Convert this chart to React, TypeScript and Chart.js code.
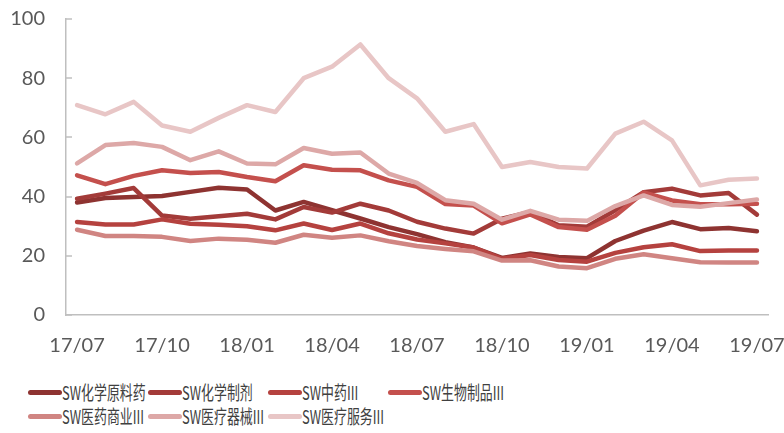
import React, { useEffect, useRef } from 'react';
import { Chart, registerables } from 'chart.js';

Chart.register(...registerables);

const months = [
  '17/07', '17/08', '17/09', '17/10', '17/11', '17/12',
  '18/01', '18/02', '18/03', '18/04', '18/05', '18/06',
  '18/07', '18/08', '18/09', '18/10', '18/11', '18/12',
  '19/01', '19/02', '19/03', '19/04', '19/05', '19/06', '19/07',
];

const seriesNames = [
  'SW化学原料药', 'SW化学制剂', 'SW中药III', 'SW生物制品III',
  'SW医药商业III', 'SW医疗器械III', 'SW医疗服务III',
];

const rawMaterials = [38.0, 39.5, 39.9, 40.2, 41.6, 43.0, 42.4, 35.3, 38.2, 35.4, 32.6, 29.7, 27.3, 24.6, 22.8, 19.3, 20.8, 19.6, 19.2, 25.0, 28.5, 31.4, 29.0, 29.4, 28.3];
const preparations = [39.3, 41.0, 42.9, 33.6, 32.5, 33.4, 34.2, 32.3, 36.5, 34.6, 37.6, 35.3, 31.5, 29.2, 27.5, 32.5, 34.8, 30.3, 29.8, 35.4, 41.5, 42.7, 40.4, 41.2, 33.9];
const tcm = [31.4, 30.6, 30.6, 32.3, 30.8, 30.5, 30.0, 28.6, 30.9, 28.7, 30.9, 27.6, 25.5, 24.2, 22.8, 19.0, 20.3, 18.6, 18.0, 21.0, 22.9, 23.9, 21.6, 21.8, 21.8];
const biologics = [47.2, 44.2, 47.0, 48.9, 48.0, 48.3, 46.6, 45.2, 50.6, 49.1, 48.9, 45.5, 43.3, 37.5, 37.0, 31.0, 34.0, 29.7, 28.8, 33.5, 41.4, 38.7, 37.4, 37.4, 37.6];
const commerce = [28.8, 26.7, 26.7, 26.4, 25.0, 25.8, 25.4, 24.4, 27.1, 26.1, 26.9, 24.9, 23.3, 22.3, 21.5, 18.4, 18.5, 16.4, 15.8, 19.0, 20.5, 19.2, 17.8, 17.7, 17.7];
const devices = [51.2, 57.4, 58.1, 56.8, 52.3, 55.3, 51.2, 50.9, 56.4, 54.5, 54.9, 47.8, 44.6, 38.8, 37.6, 32.2, 35.2, 32.2, 31.8, 36.8, 40.4, 37.2, 36.6, 37.8, 39.0];
const services = [70.9, 67.8, 72.0, 64.0, 61.9, 66.6, 70.9, 68.6, 80.0, 83.9, 91.4, 80.0, 73.2, 61.9, 64.5, 50.0, 51.7, 50.0, 49.5, 61.3, 65.3, 59.0, 43.8, 45.7, 46.1];

const seriesValues = [rawMaterials, preparations, tcm, biologics, commerce, devices, services];
const colors = ['#8E3331', '#A33B39', '#B5423F', '#C4504D', '#D08582', '#DDA8A7', '#E8C6C6'];

const yTicks = [0, 20, 40, 60, 80, 100];
const xTickStep = 3;

const innerTicks = {
  id: 'innerTicks',
  beforeDatasetsDraw(chart: any) {
    const y = chart.scales.y;
    const ctx = chart.ctx;
    ctx.save();
    ctx.strokeStyle = '#BFBFBF';
    ctx.lineWidth = 1.5;
    y.ticks.forEach((t: any) => {
      const py = Math.round(y.getPixelForValue(t.value));
      ctx.beginPath();
      ctx.moveTo(y.right, py);
      ctx.lineTo(y.right + 6, py);
      ctx.stroke();
    });
    ctx.restore();
  },
};

export default function App() {
  const ref = useRef<HTMLCanvasElement | null>(null);

  useEffect(() => {
    if (!ref.current) return;
    const chart = new Chart(ref.current, {
      type: 'line',
      data: {
        datasets: seriesValues.map((vals, i) => ({
          label: seriesNames[i],
          data: vals.map((v, k) => ({ x: k, y: v })),
          borderColor: colors[i],
          backgroundColor: colors[i],
          borderWidth: 4.5,
          pointRadius: 0,
          tension: 0,
          borderJoinStyle: 'round',
          borderCapStyle: 'round',
          order: seriesValues.length - i,
        })),
      },
      options: {
        animation: false,
        responsive: false,
        devicePixelRatio: 1,
        layout: { padding: { left: 0, right: 16, top: 19, bottom: 0 } },
        plugins: { legend: { display: false }, tooltip: { enabled: false } },
        scales: {
          x: {
            type: 'linear',
            min: -0.39,
            max: months.length - 1 + 0.39,
            afterBuildTicks: (scale: any) => {
              scale.ticks = months
                .map((_, i) => i)
                .filter((i) => i % xTickStep === 0)
                .map((v) => ({ value: v }));
            },
            afterFit: (scale: any) => {
              scale.height = 55;
              scale.paddingLeft = 0;
              scale.paddingRight = 0;
              scale.paddingTop = 0;
              scale.paddingBottom = 0;
            },
            grid: { display: true, drawOnChartArea: false, drawTicks: false, color: '#BFBFBF' },
            border: { display: true, color: '#BFBFBF', width: 1.5 },
            ticks: {
              autoSkip: false,
              maxRotation: 0,
              padding: 19,
              color: '#595959',
              font: { family: 'Lato', size: 20 },
              callback: (v: any) => months[v] ?? '',
            },
          },
          y: {
            min: 0,
            max: 100,
            afterBuildTicks: (scale: any) => {
              scale.ticks = yTicks.map((v) => ({ value: v }));
            },
            afterFit: (scale: any) => {
              scale.width = 66;
              scale.paddingLeft = 0;
              scale.paddingRight = 0;
              scale.paddingTop = 0;
              scale.paddingBottom = 0;
            },
            grid: { display: true, drawOnChartArea: false, drawTicks: false, color: '#BFBFBF' },
            border: { display: true, color: '#BFBFBF', width: 1.5 },
            ticks: {
              padding: 21,
              color: '#595959',
              font: { family: 'Lato', size: 20 },
            },
          },
        },
      },
      plugins: [innerTicks],
    } as any);
    return () => chart.destroy();
  }, []);

  const legendRows = [seriesNames.slice(0, 4), seriesNames.slice(4)];

  return (
    <div style={{ position: 'fixed', left: 0, top: 0, width: 784, height: 433, background: '#fff', overflow: 'hidden' }}>
      <canvas ref={ref} width={784} height={370} style={{ display: 'block', width: 784, height: 370 }} />
      {legendRows.map((row, r) =>
        row.map((name, c) => {
          const idx = r * 4 + c;
          return (
            <div
              key={name}
              style={{
                position: 'absolute',
                left: 28 + c * 120,
                top: 392 + r * 24 - 12,
                height: 24,
                display: 'flex',
                alignItems: 'center',
                whiteSpace: 'nowrap',
              }}
            >
              <div style={{ width: 34, height: 5, borderRadius: 3, background: colors[idx], flex: 'none' }} />
              <span
                style={{
                  display: 'inline-block',
                  transform: 'scaleX(0.68)',
                  transformOrigin: 'left center',
                  fontFamily: '"Noto Sans CJK SC", "Noto Sans", sans-serif',
                  fontSize: 19,
                  color: '#404040',
                  lineHeight: '24px',
                }}
              >
                {name}
              </span>
            </div>
          );
        })
      )}
    </div>
  );
}
